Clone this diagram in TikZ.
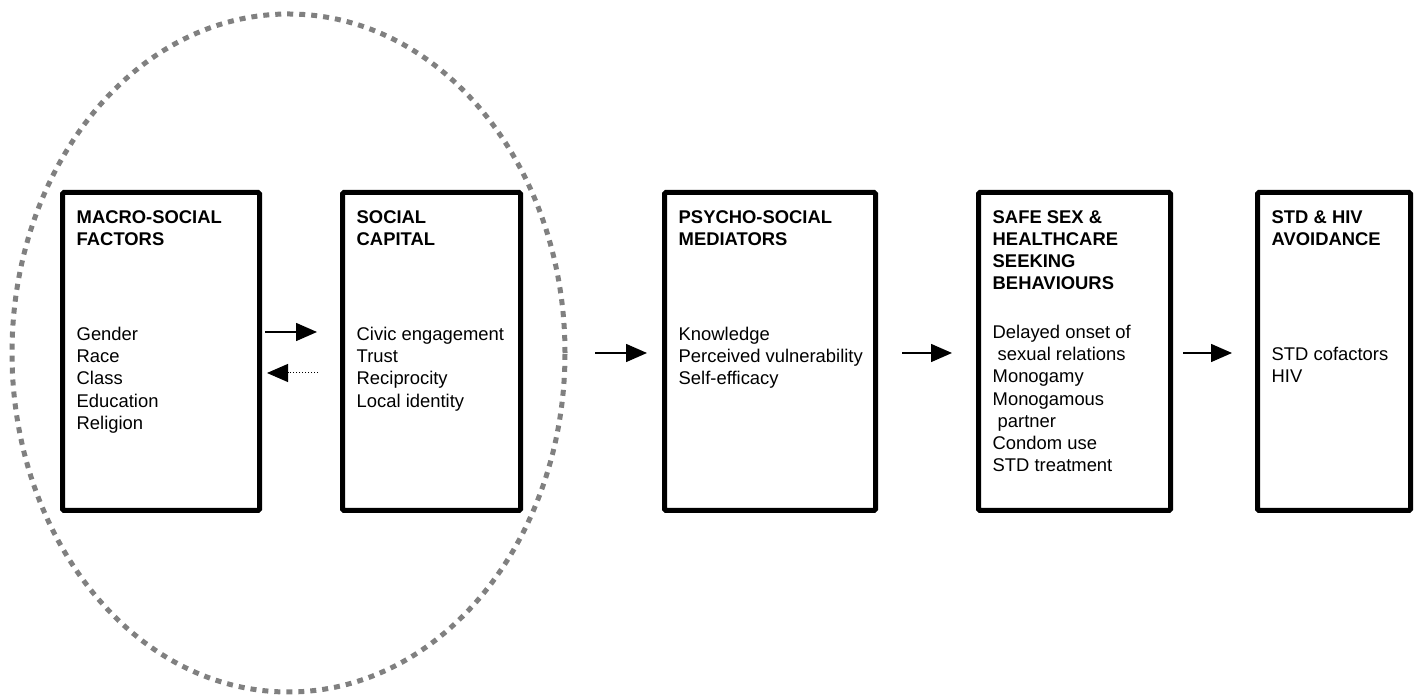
\documentclass[tikz,border=0pt]{standalone}
\usepackage{fontspec}
\setmainfont{Liberation Sans}
\usetikzlibrary{positioning}
\usetikzlibrary{arrows.meta}
\begin{document}
\begin{tikzpicture}[x=1pt,y=1pt,
      factor/.style={rectangle,draw=black,line width=5pt,rounded corners=1.5pt,minimum height=318pt,inner sep=0pt},
      heading/.style={align=left,inner sep=0pt,font=\fontsize{18.4}{22.2}\selectfont\bfseries},
      items/.style={align=left,inner sep=0pt,font=\fontsize{18.4}{22.2}\selectfont},
      link/.style={line width=1.5pt,-{Triangle[length=21pt,width=18pt]}}]
\useasboundingbox (0,0) rectangle (1419,698);
% dotted ring round the first two boxes
\draw[black!50,line width=5pt,dash pattern=on 6pt off 6pt] (288.5,345) ellipse [x radius=276.5,y radius=339];
% the five boxes
\node (macro) [factor,minimum width=197pt] at (161,346.5) {};
\node (capital) [factor,minimum width=178pt] at (431.5,346.5) {};
\node (psycho) [factor,minimum width=211pt] at (770,346.5) {};
\node (safe) [factor,minimum width=192pt] at (1074.5,346.5) {};
\node (avoid) [factor,minimum width=153pt] at (1334,346.5) {};
% headings
\node (macroH) [heading,below right=20pt and 16.5pt of macro.north west] {MACRO-SOCIAL\\FACTORS};
\node (capitalH) [heading,below right=20pt and 16.5pt of capital.north west] {SOCIAL\\CAPITAL};
\node (psychoH) [heading,below right=20pt and 16.5pt of psycho.north west] {PSYCHO-SOCIAL\\MEDIATORS};
\node (safeH) [heading,below right=20pt and 16.5pt of safe.north west] {SAFE SEX \&\\HEALTHCARE\\SEEKING\\BEHAVIOURS};
\node (avoidH) [heading,below right=20pt and 16.5pt of avoid.north west] {STD \& HIV\\AVOIDANCE};
% items
\node (macroL) [items,below right=137pt and 16.5pt of macro.north west] {Gender\\Race\\Class\\Education\\Religion};
\node (capitalL) [items,below right=137pt and 16.5pt of capital.north west] {Civic engagement\\Trust\\Reciprocity\\Local identity};
\node (psychoL) [items,below right=137pt and 16.5pt of psycho.north west] {Knowledge\\Perceived vulnerability\\Self-efficacy};
\node (safeL) [items,below right=135pt and 16.5pt of safe.north west] {Delayed onset of\\\hspace*{5pt}sexual relations\\Monogamy\\Monogamous\\\hspace*{5pt}partner\\Condom use\\STD treatment};
\node (avoidL) [items,below right=157pt and 16.5pt of avoid.north west] {STD cofactors\\HIV};
% arrows
\draw[link,shorten <=3pt,shorten >=23pt] ([yshift=19.5pt]macro.east) -- ([yshift=19.5pt]capital.west);
\draw[link,line width=1pt,dash pattern=on 1pt off 2pt,shorten <=22pt,shorten >=5pt] ([yshift=-21.5pt]capital.west) -- ([yshift=-21.5pt]macro.east);
\draw[link,shorten <=72pt,shorten >=15pt] ([yshift=-1.5pt]capital.east) -- ([yshift=-1.5pt]psycho.west);
\draw[link,shorten <=24pt,shorten >=24pt] ([yshift=-1.5pt]psycho.east) -- ([yshift=-1.5pt]safe.west);
\draw[link,shorten <=10pt,shorten >=23pt] ([yshift=-1.5pt]safe.east) -- ([yshift=-1.5pt]avoid.west);
\end{tikzpicture}
\end{document}
